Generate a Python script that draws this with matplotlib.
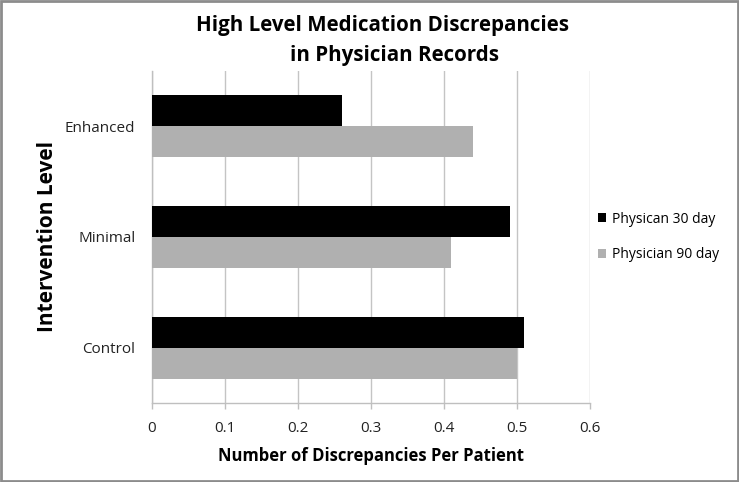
import matplotlib
matplotlib.use("Agg")
import matplotlib.pyplot as plt
import numpy as np
from matplotlib.patches import Rectangle

plt.rcParams["font.family"] = ["Open Sans", "DejaVu Sans"]

# データ
categories = ["Control", "Minimal", "Enhanced"]
day30 = [0.51, 0.49, 0.26]
day90 = [0.50, 0.41, 0.44]
series_names = ["Physican 30 day", "Physician 90 day"]
xticks = [0, 0.1, 0.2, 0.3, 0.4, 0.5, 0.6]

fig = plt.figure(figsize=(7.39, 4.82), dpi=100)
ax = fig.add_axes([0.2057, 0.1639, 0.5927, 0.6888])

y = np.arange(len(categories))
h = 0.28
ax.barh(y + h / 2, day30, height=h, color="black", label=series_names[0], zorder=3)
ax.barh(y - h / 2, day90, height=h, color="#b0b0b0", label=series_names[1], zorder=3)

ax.set_xlim(0, 0.6)
ax.set_ylim(-0.5, 2.5)
ax.set_xticks(xticks)
ax.set_xticklabels([f"{t:g}" for t in xticks], fontsize=11, color="#222222")
ax.set_yticks(y)
ax.set_yticklabels(categories, fontsize=11, color="#222222")
ax.tick_params(axis="y", length=0, pad=12)
ax.tick_params(axis="x", length=4, width=1, color="#bfbfbf", pad=9)

ax.grid(axis="x", color="#c4c4c4", linewidth=1, zorder=0)
for s in ["top", "right"]:
    ax.spines[s].set_visible(False)
for s in ["left", "bottom"]:
    ax.spines[s].set_color("#bfbfbf")
    ax.spines[s].set_linewidth(1)

ax.set_xlabel("Number of Discrepancies Per Patient", fontsize=12, fontweight="bold", labelpad=8)
ax.set_ylabel("Intervention Level", fontsize=15, fontweight="bold", labelpad=5)

fig.text(382 / 739, 1 - 25 / 482, "High Level Medication Discrepancies",
         ha="center", va="center", fontsize=14.8, fontweight="bold")
fig.text(394 / 739, 1 - 55 / 482, "in Physician Records",
         ha="center", va="center", fontsize=14.8, fontweight="bold")

ax.legend(loc="center left", bbox_to_anchor=(0.99, 0.5), frameon=False, fontsize=10,
          handlelength=0.6, handleheight=0.6, handletextpad=0.4, labelspacing=1.5)

# 外枠
fig.patches.append(Rectangle((0.001, 0.002), 0.998, 0.996, transform=fig.transFigure,
                             fill=False, edgecolor="#8c8c8c", linewidth=2))

fig.savefig("out.png", dpi=100)
